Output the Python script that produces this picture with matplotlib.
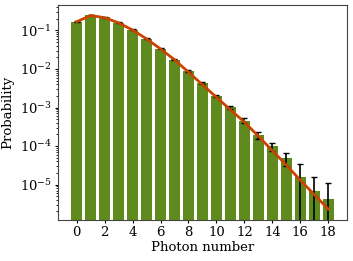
import numpy as np
import matplotlib
matplotlib.use("Agg")
import matplotlib.pyplot as plt

plt.rcParams["font.family"] = "DejaVu Serif"
plt.rcParams["font.size"] = 9.5
plt.rcParams["xtick.major.size"] = 2.2
plt.rcParams["ytick.major.size"] = 2.2
plt.rcParams["ytick.minor.size"] = 1.3
plt.rcParams["xtick.major.pad"] = 2.2
plt.rcParams["ytick.major.pad"] = 2.2

# measured photon number distribution
photon_n = np.arange(0, 19)
prob = [0.171, 0.25, 0.222, 0.161, 0.105, 0.061, 0.0336, 0.0174, 0.0090,
        0.00442, 0.0020, 0.00102, 4.6e-4, 1.96e-4, 9.8e-5, 4.9e-5, 1.6e-5,
        6.7e-6, 4.3e-6]
prob_err = [0.004, 0.005, 0.005, 0.004, 0.003, 0.002, 0.0012, 0.0007, 0.0004,
            0.00022, 0.00012, 8e-5, 6e-5, 4e-5, 2.5e-5, 1.8e-5, 1.8e-5,
            8.8e-6, 6.7e-6]
# model curve
model = [0.168, 0.245, 0.215, 0.158, 0.103, 0.0605, 0.0333, 0.0174, 0.0083,
         0.0039, 0.00185, 8.7e-4, 4.2e-4, 1.8e-4, 7.6e-5, 3.2e-5, 1.3e-5,
         5.5e-6, 2.3e-6]

fig = plt.figure(figsize=(3.53, 2.61), dpi=100)
ax = fig.add_axes([0.164, 0.157, 0.819, 0.824])

ax.bar(photon_n, prob, width=0.82, color="#5e8a1e", yerr=prob_err,
       capsize=2, error_kw=dict(elinewidth=1.2, ecolor="black"))
ax.plot(photon_n, model, color="#c84400", lw=2)

ax.set_yscale("log")
ax.set_ylim(1.2e-6, 0.46)
ax.set_xlim(-1.34, 19.34)
ax.set_xticks(np.arange(0, 19, 2))
ax.set_xlabel("Photon number", labelpad=1)
ax.set_ylabel("Probability")
ax.yaxis.set_label_coords(-0.15, 0.5)
for s in ax.spines.values():
    s.set_edgecolor("#444444")

fig.savefig("out.png", dpi=100)
